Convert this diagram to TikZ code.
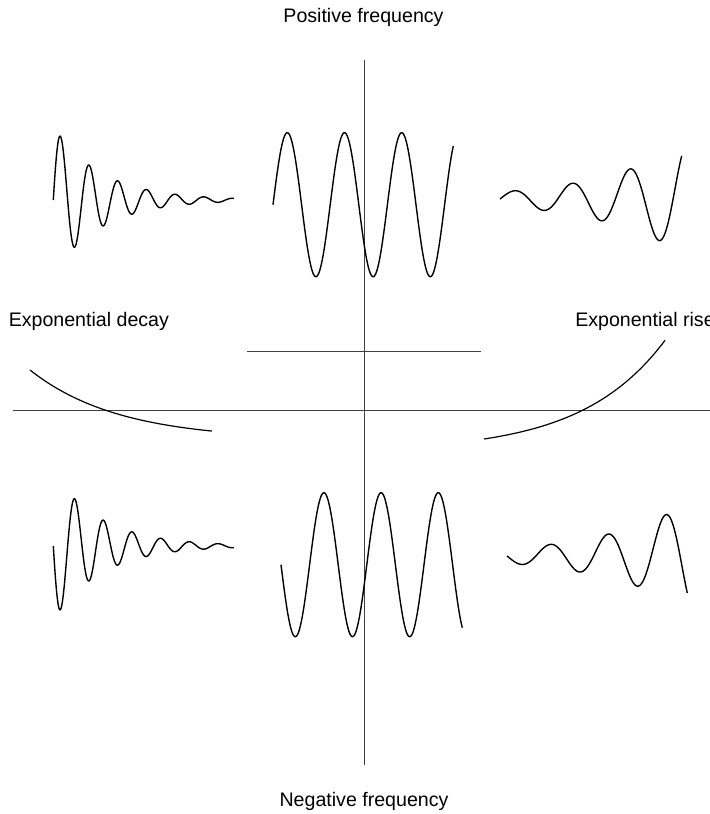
\documentclass[tikz,border=0pt]{standalone}
\usepackage{fontspec}
\setmainfont{Liberation Sans}
\begin{document}
\begin{tikzpicture}[x=0.75pt,y=-0.75pt,
  axis/.style={draw=black!75,line width=0.7pt},
  wave/.style={draw=black,line width=1.05pt,line join=round},
  lbl/.style={font=\fontsize{14.7}{17}\selectfont,inner sep=0pt,anchor=base}]
\useasboundingbox (0,0) rectangle (710,814);
% labels
\node[lbl] (pos) at (363.5,22.5) {Positive frequency};
\node[lbl] (neg) at (364,806.5) {Negative frequency};
\node[lbl,anchor=base west] (dec) at (8.5,326) {Exponential decay};
\node[lbl,anchor=base west] (rise) at (575,326) {Exponential rise};
% axes
\coordinate (vt) at (364,60); \coordinate (vb) at (364,765);
\coordinate (hl) at (13,410); \coordinate (hr) at (712,410);
\coordinate (ul) at (247,351); \coordinate (ur) at (481,351);
\draw[axis] (vt) -- (vb);
\draw[axis] (hl) -- (hr);
\draw[axis] (ul) -- (ur);
% exponential curves
\draw[wave,line width=0.9pt] plot[domain=30:212,samples=80] (\x,{440-70*exp(-0.0113*(\x-30))});
\draw[wave,line width=0.9pt] plot[domain=484:665,samples=80] (\x,{451.7-12.71*exp(0.012*(\x-484))});
% top-left decaying
\draw[wave] plot[domain=53.3:234,samples=300] (\x,{200-74*exp(-0.021*(\x-53.3))*sin(deg(0.219*(\x-53.3)))});
% bottom-left decaying
\draw[wave] plot[domain=53.3:234,samples=300] (\x,{546+74*exp(-0.021*(\x-53.3))*sin(deg(0.219*(\x-53.3)))});
% top middle
\draw[wave] plot[domain=273:453.3,samples=300] (\x,{204.7-72*sin(deg(2*pi*(\x-273)/57.2))});
% bottom middle
\draw[wave] plot[domain=281:462.3,samples=300] (\x,{564.7+72*sin(deg(2*pi*(\x-281)/57.2))});
% top right growing
\draw[wave] plot[domain=500:681.7,samples=300] (\x,{199-7*exp(0.0112*(\x-500))*sin(deg(0.1089*(\x-500)))});
% bottom right growing
\draw[wave] plot[domain=507:687.3,samples=300] (\x,{556+7.2*exp(0.011*(\x-507))*sin(deg(0.1089*(\x-507)))});
\end{tikzpicture}
\end{document}
